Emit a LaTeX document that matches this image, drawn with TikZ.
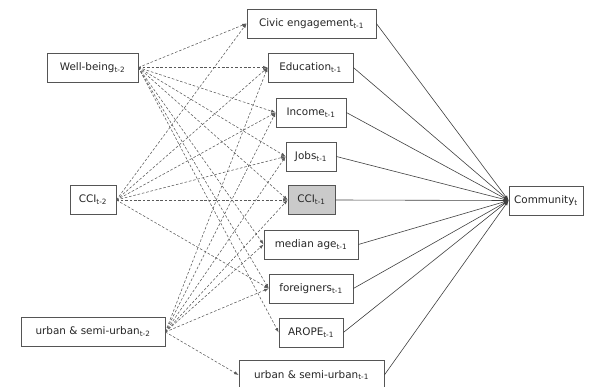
\documentclass[tikz,border=0pt]{standalone}
\usepackage{fontspec}
\setmainfont{DejaVu Sans}
\usetikzlibrary{arrows.meta}
\definecolor{boxline}{HTML}{555555}
\definecolor{cfill}{HTML}{CACACA}
\tikzset{
  vbox/.style={draw=boxline, line width=0.7pt, fill=white, minimum height=29pt, inner xsep=3pt, inner ysep=0pt, font=\fontsize{10.4pt}{12pt}\selectfont, text=black!85},
  dpath/.style={draw=black!65, line width=0.55pt, dash pattern=on 2.6pt off 1.8pt, -{Latex[length=4.5pt,width=3.2pt]}},
  spath/.style={draw=black!75, line width=0.6pt, -{Latex[length=5pt,width=3.5pt]}}
}
\newcommand{\sbs}[1]{\textsubscript{#1}}
\begin{document}
\begin{tikzpicture}[x=1pt,y=-1pt]
\useasboundingbox (0,0) rectangle (594,387);
% left
\node[vbox, minimum width=91pt] (wb) at (92.5,67.5) {Well-being\sbs{t-2}};
\node[vbox, minimum width=46pt] (cci2) at (93,200) {CCI\sbs{t-2}};
\node[vbox, minimum width=144pt] (ur2) at (93,332) {urban \& semi-urban\sbs{t-2}};
% middle
\node[vbox, minimum width=129pt] (civ) at (311.5,23.5) {Civic engagement\sbs{t-1}};
\node[vbox, minimum width=85pt] (edu) at (310.5,67.5) {Education\sbs{t-1}};
\node[vbox, minimum width=70pt] (inc) at (311,112.5) {Income\sbs{t-1}};
\node[vbox, minimum width=50pt] (job) at (311,156.5) {Jobs\sbs{t-1}};
\node[vbox, minimum width=47pt, fill=cfill] (cci1) at (311.5,200) {CCI\sbs{t-1}};
\node[vbox, minimum width=94pt] (med) at (311,244.5) {median age\sbs{t-1}};
\node[vbox, minimum width=84pt] (for) at (311,288.5) {foreigners\sbs{t-1}};
\node[vbox, minimum width=64pt] (aro) at (311,332.5) {AROPE\sbs{t-1}};
\node[vbox, minimum width=145pt] (ur1) at (311.5,375) {urban \& semi-urban\sbs{t-1}};
% right
\node[vbox, minimum width=74pt] (com) at (546,200.5) {Community\sbs{t}};
% dashed arrows
\foreach \t in {civ,edu,inc,job,cci1,med,for,aro}
  \draw[dpath] (wb.east) -- (\t.west);
\foreach \t in {civ,edu,inc,job,cci1,for}
  \draw[dpath] (cci2.east) -- (\t.west);
\foreach \t in {edu,inc,job,cci1,med,for,ur1}
  \draw[dpath] (ur2.east) -- (\t.west);
% solid arrows
\foreach \s in {civ,edu,inc,job,cci1,med,for,aro,ur1}
  \draw[spath] (\s.east) -- (com.west);
\end{tikzpicture}
\end{document}
